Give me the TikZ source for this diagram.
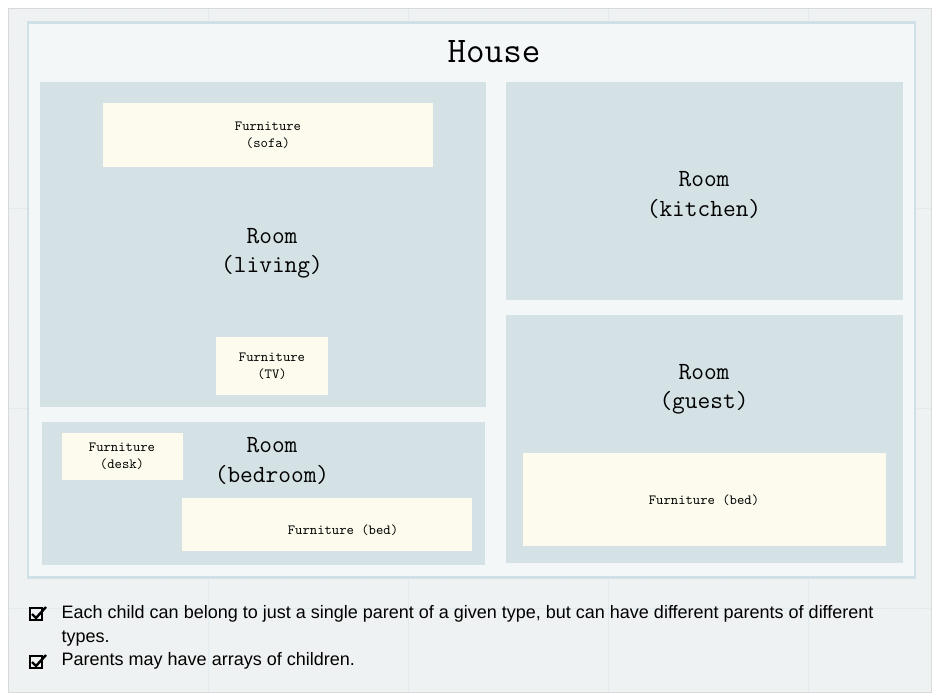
\documentclass[tikz,border=0pt]{standalone}
\usepackage{fontspec}
\setmainfont{Liberation Sans}
\begin{document}
\begin{tikzpicture}[x=0.75pt,y=-0.75pt,
  room/.style={fill=roomc,draw=none},
  furn/.style={fill=furnc,draw=none},
  rtext/.style={font=\ttfamily\fontsize{18.5}{22}\selectfont,align=center},
  ftext/.style={font=\ttfamily\fontsize{10.5}{13}\selectfont,align=center},
  btext/.style={font=\fontsize{13.5}{18}\selectfont,anchor=west,align=left}]
\definecolor{bgc}{HTML}{EEF2F3}
\definecolor{housec}{HTML}{F3F7F8}
\definecolor{houseb}{HTML}{CFE0E6}
\definecolor{roomc}{HTML}{D4E1E5}
\definecolor{furnc}{HTML}{FCFBEE}
\useasboundingbox (0,0) rectangle (940,700);
\fill[white] (0,0) rectangle (940,700);
\fill[bgc] (8,8) rectangle (931,692);
\draw[white!92!houseb!90!gray,line width=0.3pt] \foreach \x in {18,28,...,928} {(\x,8)--(\x,692)} \foreach \y in {18,28,...,688} {(8,\y)--(931,\y)};
\draw[houseb!60!white,line width=0.4pt] \foreach \x in {208,408,...,928} {(\x,8)--(\x,692)} \foreach \y in {208,408,...,688} {(8,\y)--(931,\y)};
\draw[gray!30] (8,8) rectangle (931,692);
\node[fill=housec,draw=houseb,line width=2.2pt,minimum width=887*0.75pt,minimum height=555*0.75pt,inner sep=0pt] (house) at (471.5,300) {};
\node[font=\ttfamily\fontsize{27}{30}\selectfont] (title) at (494,52) {House};
% living
\fill[room] (40,82) rectangle (486,407);
\node[rtext] (livingt) at (272,253) {Room\\(living)};
\fill[furn] (103,103) rectangle (433,167);
\node[ftext] (sofa) at (268,135) {Furniture\\(sofa)};
\fill[furn] (216,337) rectangle (328,395);
\node[ftext] (tv) at (272,366) {Furniture\\(TV)};
% kitchen
\fill[room] (506,82) rectangle (903,300);
\node[rtext] (kitchen) at (704,195) {Room\\(kitchen)};
% bedroom
\fill[room] (42,422) rectangle (485,565);
\node[rtext] (bedroom) at (272,461) {Room\\(bedroom)};
\fill[furn] (62,433) rectangle (183,480);
\node[ftext] (desk) at (122,456) {Furniture\\(desk)};
\fill[furn] (182,498) rectangle (472,551);
\node[ftext] (bed1) at (343,530) {Furniture (bed)};
% guest
\fill[room] (506,315) rectangle (903,563);
\node[rtext] (guest) at (704,389) {Room\\(guest)};
\fill[furn] (523,453) rectangle (886,546);
\node[ftext] (bed2) at (704,500) {Furniture (bed)};
% bullets
\foreach \yy in {614,662} {
  \draw[black,line width=0.8pt] (30,\yy-6) rectangle (42,\yy+6);
  \draw[black,line width=1.8pt] (32,\yy) -- (36,\yy+4) -- (46,\yy-7);
}
\node[btext] (b1) at (57,626) {Each child can belong to just a single parent of a given type, but can have different parents of different\\types.};
\node[btext] (b2) at (57,661) {Parents may have arrays of children.};
\end{tikzpicture}
\end{document}
